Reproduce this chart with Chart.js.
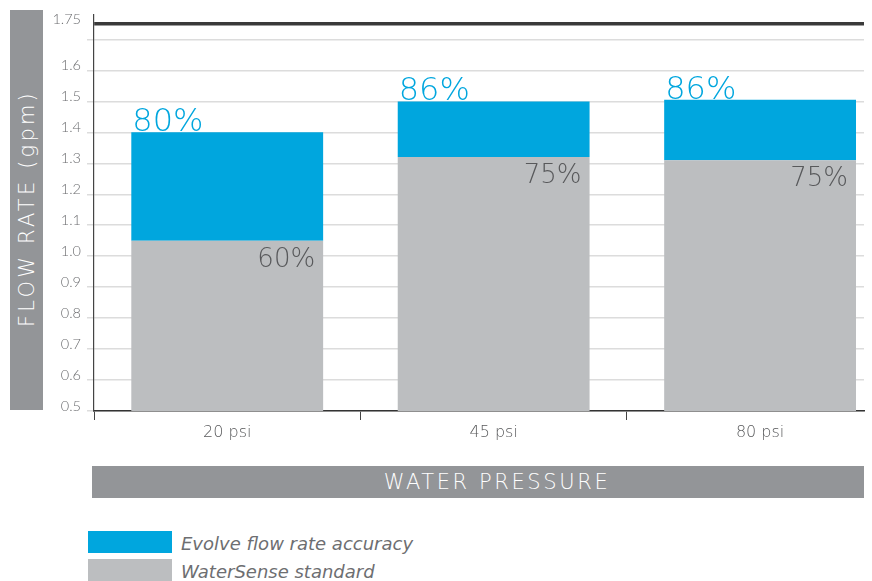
<!DOCTYPE html>
<html>
<head>
<meta charset="utf-8">
<script src="https://cdn.jsdelivr.net/npm/chart.js@4"></script>
<style>
  html, body { margin: 0; padding: 0; background: #fff; overflow: hidden; }
  body { width: 872px; height: 581px; position: relative; font-family: "DejaVu Sans", sans-serif; }
  #wrap { position: absolute; left: 0; top: 0; width: 872px; height: 452px; }
  .band { position: absolute; background: #939598; color: #fff; font-weight: 200; }
  #ytitle { left: 10px; top: 10px; width: 33px; height: 400px; }
  #ytitle span { position: absolute; left: 50%; top: 50%; transform: translate(-50%, -50%) rotate(-90deg); white-space: nowrap; font-size: 21px; letter-spacing: 3.2px; padding-left: 3px; }
  #xtitle { left: 92px; top: 466px; width: 734px; padding-left: 38px; height: 32px; line-height: 33px; text-align: center; font-size: 21px; letter-spacing: 2.6px; }
  .leg { position: absolute; left: 88px; height: 22px; }
  .leg i { position: absolute; left: 0; top: 0; width: 84px; height: 22px; }
  .leg span { position: absolute; left: 93px; top: 0; line-height: 26px; white-space: nowrap; font-style: italic; font-size: 18px; color: #6d6e71; font-weight: 200; }
</style>
</head>
<body>
<div id="ytitle" class="band"><span>FLOW RATE (gpm)</span></div>
<div id="wrap"><canvas id="myChart"></canvas></div>
<div id="xtitle" class="band">WATER PRESSURE</div>
<div id="legend"></div>
<script>
const categories = ['20 psi', '45 psi', '80 psi'];
const standardValues = [1.05, 1.32, 1.31];   // WaterSense standard (top of gray)
const evolveValues = [1.40, 1.50, 1.505];    // Evolve flow rate accuracy (top of blue)
const standardPct = ['60%', '75%', '75%'];
const evolvePct = ['80%', '86%', '86%'];
const yTicks = [0.5, 0.6, 0.7, 0.8, 0.9, 1.0, 1.1, 1.2, 1.3, 1.4, 1.5, 1.6, 1.7, 1.75];
const yBase = 0.5;
const limitLine = 1.75;

const blue = '#00a6de';
const gray = '#bcbec0';

// legend
const legendItems = [
    { label: 'Evolve flow rate accuracy', color: blue, top: 531 },
    { label: 'WaterSense standard', color: gray, top: 559 }
];
const legendEl = document.getElementById('legend');
legendItems.forEach(function(it) {
    const d = document.createElement('div');
    d.className = 'leg';
    d.style.top = it.top + 'px';
    d.innerHTML = '<i style="background:' + it.color + '"></i><span>' + it.label + '</span>';
    legendEl.appendChild(d);
});

// percentage labels on the bars
const pctLabels = {
    id: 'pctLabels',
    afterDatasetsDraw(chart) {
        const ctx = chart.ctx;
        const grayMeta = chart.getDatasetMeta(0);
        const blueMeta = chart.getDatasetMeta(1);
        ctx.save();
        grayMeta.data.forEach(function(bar, i) {
            const half = bar.width / 2;
            ctx.font = '200 26px "DejaVu Sans", sans-serif';
            ctx.fillStyle = '#58595b';
            ctx.textAlign = 'right';
            ctx.textBaseline = 'alphabetic';
            ctx.fillText(standardPct[i], bar.x + half - 8, bar.y + 26);
            const b = blueMeta.data[i];
            ctx.font = '200 32px "DejaVu Sans", sans-serif';
            ctx.fillStyle = blue;
            ctx.textAlign = 'left';
            ctx.fillText(evolvePct[i], b.x - b.width / 2 + 1, b.y - 1);
        });
        ctx.restore();
    }
};

const ctx = document.getElementById('myChart').getContext('2d');
window.myChart = new Chart(ctx, {
    type: 'bar',
    data: {
        datasets: [
            {
                label: 'WaterSense standard',
                data: standardValues.map((v, i) => ({ x: i, y: [yBase, v] })),
                backgroundColor: gray,
                barPercentage: 0.9,
                categoryPercentage: 0.8
            },
            {
                label: 'Evolve flow rate accuracy',
                data: evolveValues.map((v, i) => ({ x: i, y: [standardValues[i], v] })),
                backgroundColor: blue,
                barPercentage: 0.9,
                categoryPercentage: 0.8
            }
        ]
    },
    options: {
        responsive: true,
        maintainAspectRatio: false,
        animation: false,
        layout: { padding: { left: 0, right: 8, top: 0, bottom: 0 } },
        plugins: {
            legend: { display: false },
            tooltip: { enabled: false }
        },
        scales: {
            x: {
                type: 'linear',
                stacked: true,
                offset: false,
                min: -0.5,
                max: 2.39,
                afterBuildTicks(scale) {
                    scale.ticks = categories.map((c, i) => ({ value: i }));
                },
                afterFit(scale) { scale.height = 41; },
                ticks: {
                    callback: (v) => categories[v],
                    color: '#58595b',
                    font: { family: '"DejaVu Sans", sans-serif', size: 16, weight: 200 },
                    padding: 3,
                    maxRotation: 0
                },
                grid: {
                    offset: true,
                    drawOnChartArea: false,
                    drawTicks: true,
                    tickLength: 9,
                    color: '#444'
                },
                border: { display: true, color: '#333', width: 1.5 }
            },
            y: {
                min: yBase,
                max: 1.78,
                stacked: false,
                afterBuildTicks(scale) {
                    scale.ticks = yTicks.map(v => ({ value: v }));
                },
                afterFit(scale) { scale.width = 94; },
                ticks: {
                    callback: (v) => (v === 1.7 ? '' : String(v === 1 ? '1.0' : v)),
                    color: '#6d6e71',
                    font: { family: 'Lato, sans-serif', size: 14.5, weight: 300 },
                    padding: 6,
                    labelOffset: -5
                },
                grid: {
                    color: (c) => (c.tick && c.tick.value === limitLine ? '#3a3a3a' : '#dcdcdc'),
                    lineWidth: (c) => (c.tick && c.tick.value === limitLine ? 3.5 : 1.5),
                    tickColor: (c) => (c.tick && c.tick.value === limitLine ? 'rgba(0,0,0,0)' : '#dcdcdc'),
                    tickLength: 7
                },
                border: { display: true, color: '#444', width: 1.2 }
            }
        }
    },
    plugins: [pctLabels]
});
</script>
</body>
</html>
